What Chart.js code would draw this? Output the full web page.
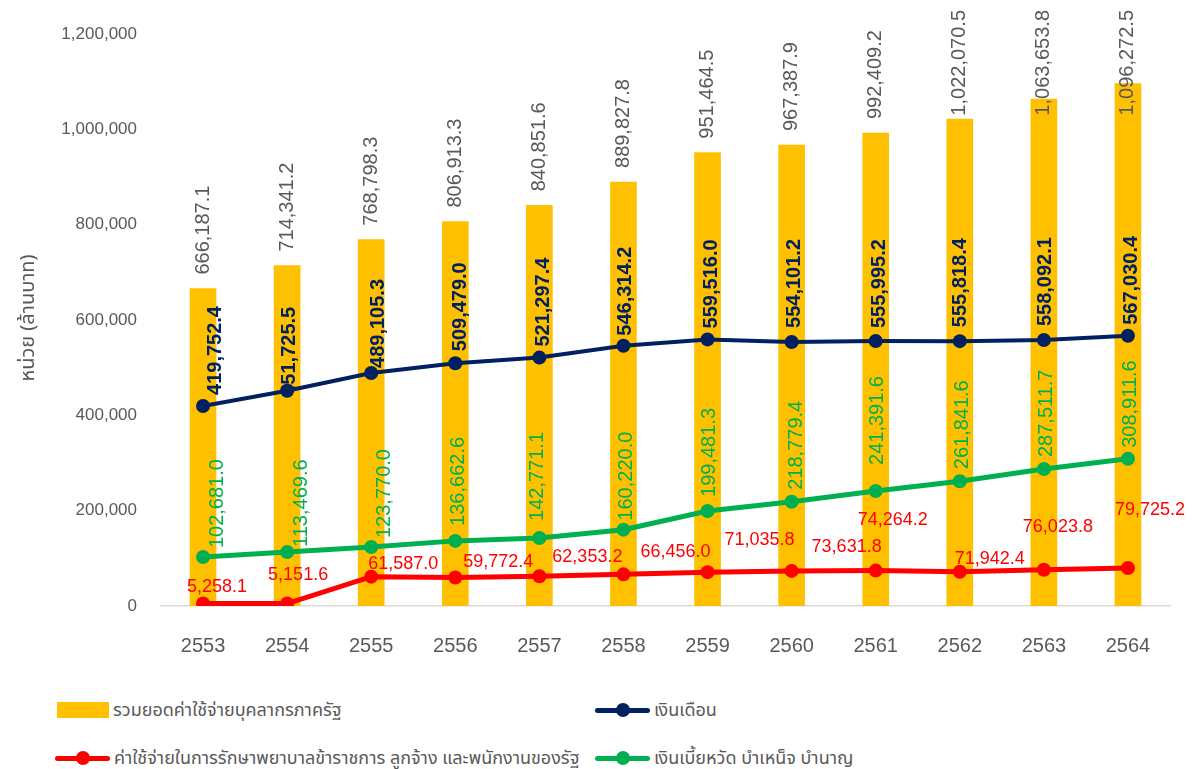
<!DOCTYPE html>
<html>
<head>
<meta charset="utf-8">
<script src="https://cdn.jsdelivr.net/npm/chart.js@4.4.1/dist/chart.umd.min.js"></script>
<style>
  body { margin: 0; background: #fff; font-family: 'Noto Sans Thai', 'Leelawadee UI', Tahoma, 'Liberation Sans', sans-serif; }
  #wrap { position: relative; width: 1195px; height: 769px; }
  #chart { position: absolute; left: 0; top: 0; }
  .leg { position: absolute; height: 24px; display: flex; align-items: center; color: #595959; font-size: 18px; white-space: nowrap; }
  .sw-bar { width: 52px; height: 16px; background: #FFC000; margin-right: 4px; }
  .sw-line { position: relative; width: 55px; height: 14px; margin-right: 4px; }
  .sw-line i { position: absolute; left: 0; right: 0; top: 5px; height: 5px; border-radius: 3px; }
  .sw-line b { position: absolute; left: 21px; top: 0; width: 14px; height: 14px; border-radius: 50%; }
</style>
</head>
<body>
<div id="wrap">
  <canvas id="chart" width="1195" height="680"></canvas>
  <div class="leg" style="left:57px; top:698px;"><span class="sw-bar"></span><span>รวมยอดค่าใช้จ่ายบุคลากรภาครัฐ</span></div>
  <div class="leg" style="left:595px; top:698px;"><span class="sw-line"><i style="background:#002060"></i><b style="background:#002060"></b></span><span>เงินเดือน</span></div>
  <div class="leg" style="left:55px; top:746px;"><span class="sw-line"><i style="background:#FF0000"></i><b style="background:#FF0000"></b></span><span>ค่าใช้จ่ายในการรักษาพยาบาลข้าราชการ ลูกจ้าง และพนักงานของรัฐ</span></div>
  <div class="leg" style="left:595px; top:746px;"><span class="sw-line"><i style="background:#00B050"></i><b style="background:#00B050"></b></span><span>เงินเบี้ยหวัด บำเหน็จ บำนาญ</span></div>
</div>
<script>
const years = ['2553', '2554', '2555', '2556', '2557', '2558', '2559', '2560', '2561', '2562', '2563', '2564'];
const totalCost = [666187.1, 714341.2, 768798.3, 806913.3, 840851.6, 889827.8, 951464.5, 967387.9, 992409.2, 1022070.5, 1063653.8, 1096272.5];
const salary = [419752.4, 451725.5, 489105.3, 509479.0, 521297.4, 546314.2, 559516.0, 554101.2, 555995.2, 555818.4, 558092.1, 567030.4];
const pension = [102681.0, 113469.6, 123770.0, 136662.6, 142771.1, 160220.0, 199481.3, 218779.4, 241391.6, 261841.6, 287511.7, 308911.6];
const medical = [5258.1, 5151.6, 61587.0, 59772.4, 62353.2, 66456.0, 71035.8, 73631.8, 74264.2, 71942.4, 76023.8, 79725.2];
const yTicks = [0, 200000, 400000, 600000, 800000, 1000000, 1200000];

// label nudges in pixels (rotated labels: dx = centre shift, dy = where the text starts)
const salaryDx = [12, 2, 7, 5, 4, 2, 4, 3, 4, 1, 2, 4];
const salaryDy = [-11, 5, -5, -12, -11, -10, -11, -14, -13, -14, -14, -11];
const pensionDx = [14, 14, 13, 3, -2, 3, 2, 5, 2, 3, 3, 3];
const pensionDy = [-9, -5, -9, -15, -17, -9, -14, -12, -26, -12, -12, -11];
const medicalDx = [14, 11, 32, 43, 48, 52, 52, 55, 17, 30, 14, 22];
const medicalDy = [-16, -29, -13, -15, -19, -22, -32, -24, -51, -13, -43, -58];

const NUM_FONT = "'Liberation Sans', Arial, sans-serif";
const fmt = v => v.toLocaleString('en-US', { minimumFractionDigits: 1, maximumFractionDigits: 1 });

const labelPlugin = {
  id: 'labels',
  afterDatasetsDraw(chart) {
    const ctx = chart.ctx;
    ctx.save();
    ctx.textBaseline = 'middle';

    // bar totals, rotated, kept inside the canvas top
    ctx.font = '20px ' + NUM_FONT;
    ctx.fillStyle = '#595959';
    chart.getDatasetMeta(0).data.forEach((bar, i) => {
      const txt = fmt(totalCost[i]);
      const w = ctx.measureText(txt).width;
      let start = bar.y - 14;
      if (start - w < 10) start = 10 + w;
      ctx.save();
      ctx.translate(bar.x, start);
      ctx.rotate(-Math.PI / 2);
      ctx.textAlign = 'left';
      ctx.fillText(txt, 0, 0);
      ctx.restore();
    });

    const rotated = (idx, vals, dx, dy, color, weight) => {
      ctx.font = weight + ' 20px ' + NUM_FONT;
      ctx.fillStyle = color;
      chart.getDatasetMeta(idx).data.forEach((pt, i) => {
        ctx.save();
        ctx.translate(pt.x + dx[i], pt.y + dy[i]);
        ctx.rotate(-Math.PI / 2);
        ctx.textAlign = 'left';
        ctx.fillText(fmt(vals[i]), 0, 0);
        ctx.restore();
      });
    };
    rotated(1, salary, salaryDx, salaryDy, '#002060', 'bold');
    rotated(3, pension, pensionDx, pensionDy, '#00B050', 'normal');

    ctx.font = '18px ' + NUM_FONT;
    ctx.fillStyle = '#FF0000';
    ctx.textAlign = 'center';
    chart.getDatasetMeta(2).data.forEach((pt, i) => {
      ctx.fillText(fmt(medical[i]), pt.x + medicalDx[i], pt.y + medicalDy[i]);
    });

    // y axis title
    ctx.save();
    ctx.translate(30, 318);
    ctx.rotate(-Math.PI / 2);
    ctx.font = "20px 'Noto Sans Thai', 'Leelawadee UI', Tahoma, 'Liberation Sans', sans-serif";
    ctx.fillStyle = '#595959';
    ctx.textAlign = 'center';
    ctx.fillText('หน่วย (ล้านบาท)', 0, 0);
    ctx.restore();

    ctx.restore();
  }
};

const lineDs = (label, data, color, width, order) => ({
  type: 'line', label, data, order,
  borderColor: color, backgroundColor: color,
  borderWidth: width, pointRadius: 7, pointHoverRadius: 7,
  pointBackgroundColor: color, pointBorderWidth: 0, tension: 0
});

new Chart(document.getElementById('chart').getContext('2d'), {
  data: {
    labels: years,
    datasets: [
      { type: 'bar', label: 'รวมยอดค่าใช้จ่ายบุคลากรภาครัฐ', data: totalCost, backgroundColor: '#FFC000', barThickness: 26, order: 10 },
      lineDs('เงินเดือน', salary, '#002060', 4, 2),
      lineDs('ค่าใช้จ่ายในการรักษาพยาบาลข้าราชการ ลูกจ้าง และพนักงานของรัฐ', medical, '#FF0000', 5, 1),
      lineDs('เงินเบี้ยหวัด บำเหน็จ บำนาญ', pension, '#00B050', 5, 3)
    ]
  },
  options: {
    responsive: false,
    animation: false,
    layout: { padding: { top: 29, right: 25, bottom: 0, left: 0 } },
    plugins: { legend: { display: false }, tooltip: { enabled: false } },
    scales: {
      x: {
        grid: { display: false, drawTicks: false },
        border: { display: true, color: '#D9D9D9', width: 1.5 },
        ticks: { color: '#595959', font: { size: 20, family: NUM_FONT }, padding: 28 },
        afterFit: s => { s.height = 74; }
      },
      y: {
        min: 0, max: 1200000,
        afterBuildTicks: s => { s.ticks = yTicks.map(v => ({ value: v })); },
        grid: { display: false, drawTicks: false },
        border: { display: false },
        ticks: {
          color: '#595959', font: { size: 17, family: NUM_FONT }, padding: 24,
          callback: v => v.toLocaleString('en-US')
        },
        afterFit: s => { s.width = 161; }
      }
    }
  },
  plugins: [labelPlugin]
});
</script>
</body>
</html>
